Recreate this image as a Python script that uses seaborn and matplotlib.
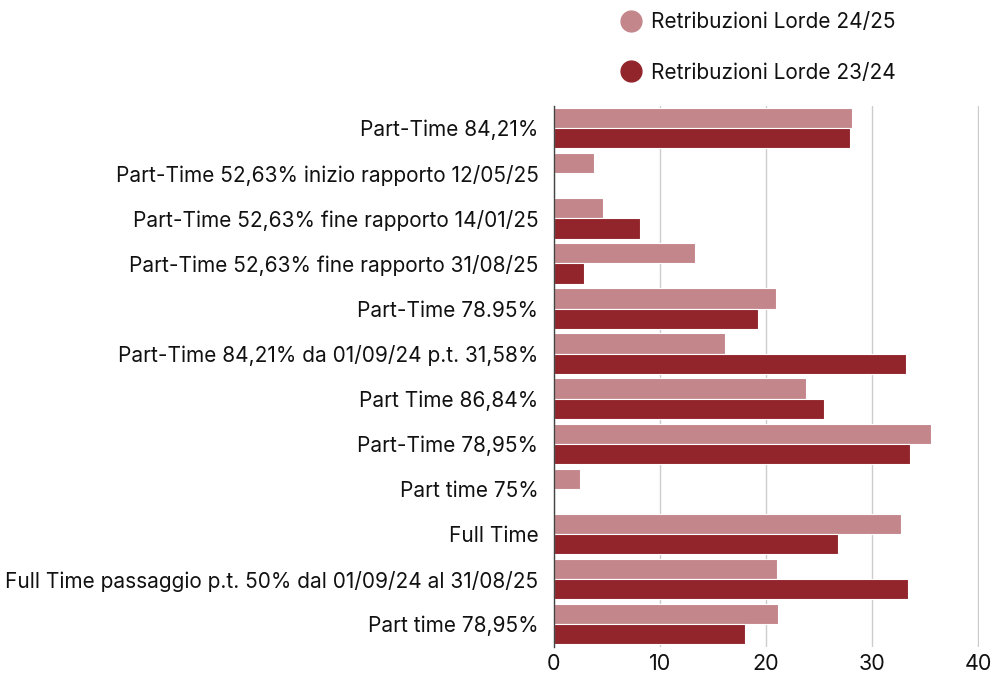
import matplotlib
matplotlib.use("Agg")
import matplotlib.pyplot as plt
from matplotlib.lines import Line2D
import seaborn as sns
import pandas as pd

categories = [
    "Part-Time 84,21%",
    "Part-Time 52,63% inizio rapporto 12/05/25",
    "Part-Time 52,63% fine rapporto 14/01/25",
    "Part-Time 52,63% fine rapporto 31/08/25",
    "Part-Time 78.95%",
    "Part-Time 84,21% da 01/09/24 p.t. 31,58%",
    "Part Time 86,84%",
    "Part-Time 78,95%",
    "Part time 75%",
    "Full Time",
    "Full Time passaggio p.t. 50% dal 01/09/24 al 31/08/25",
    "Part time 78,95%",
]
series_names = ["Retribuzioni Lorde 24/25", "Retribuzioni Lorde 23/24"]
values_2425 = [28.1, 3.8, 4.6, 13.35, 20.95, 16.1, 23.8, 35.5, 2.5, 32.7, 21.0, 21.1]
values_2324 = [27.9, 0, 8.15, 2.9, 19.2, 33.2, 25.5, 33.6, 0, 26.8, 33.4, 18.0]
colors = ["#C3868B", "#92252B"]

df = pd.DataFrame({
    "cat": categories * 2,
    "serie": [series_names[0]] * len(categories) + [series_names[1]] * len(categories),
    "val": values_2425 + values_2324,
})

sns.set_theme(style="white")
plt.rcParams["font.family"] = ["Inter", "DejaVu Sans"]

fig = plt.figure(figsize=(10.03, 6.73), dpi=100)
ax = fig.add_axes([0.552, 0.039, 0.424, 0.804])

sns.barplot(data=df, y="cat", x="val", hue="serie", orient="h",
            palette=colors, width=0.9, ax=ax, legend=False,
            edgecolor="white", linewidth=0.8, saturation=1)

ax.set_xlim(0, 40.05)
ax.set_xticks([0, 10, 20, 30, 40])
ax.xaxis.grid(True, color="#cccccc", linewidth=1)
ax.set_axisbelow(True)
for s in ["top", "right", "bottom"]:
    ax.spines[s].set_visible(False)
ax.spines["left"].set_color("#444444")
ax.spines["left"].set_linewidth(1)
ax.set_xlabel("")
ax.set_ylabel("")
ax.tick_params(axis="y", length=0, pad=11, labelsize=15, labelcolor="#111111")
ax.tick_params(axis="x", length=0, pad=5, labelsize=15.5, labelcolor="#111111")

handles = [Line2D([], [], marker="o", linestyle="", markersize=15,
                  markerfacecolor=c, markeredgecolor=c) for c in colors]
fig.legend(handles, series_names, loc="upper left", bbox_to_anchor=(0.606, 1.0),
           frameon=False, fontsize=15, labelspacing=1.45, handletextpad=0.45,
           handlelength=1.0, borderaxespad=0.2, labelcolor="#111111")

fig.savefig("out.png", dpi=100)
